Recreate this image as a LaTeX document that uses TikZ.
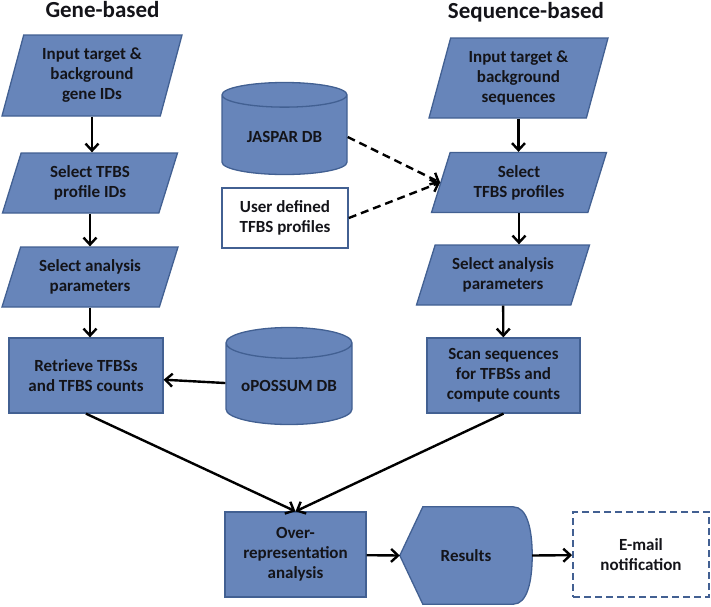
\documentclass[tikz,border=0pt]{standalone}
\usepackage{fontspec}
\setmainfont{Carlito}
\usetikzlibrary{shapes.geometric,arrows.meta,backgrounds}
\definecolor{boxfill}{RGB}{103,133,186}
\definecolor{boxline}{RGB}{66,96,146}
\definecolor{inktext}{RGB}{20,20,25}

\begin{document}
\begin{tikzpicture}[x=1pt, y=-1pt,
		every node/.style={font=\bfseries\fontsize{17}{20}\selectfont, text=inktext, align=center},
		iobox/.style={trapezium, trapezium left angle=63, trapezium right angle=117, trapezium stretches body, draw=boxline, fill=boxfill, line width=1.3pt, minimum width=175pt, minimum height=60pt, inner sep=1pt},
		procbox/.style={rectangle, draw=boxline, fill=boxfill, line width=1.3pt, inner sep=2pt},
		dbcyl/.style={cylinder, shape border rotate=90, aspect=0.3, draw=boxline, fill=boxfill, line width=1.3pt, anchor=shape center},
		userbox/.style={rectangle, draw=boxline, fill=white, line width=1.6pt},
		mailbox/.style={rectangle, draw=boxline, fill=white, line width=1.8pt, dash pattern=on 7pt off 4pt},
		flow/.style={line width=2.4pt, -{Straight Barb[length=7pt, width=13pt]}},
		dashflow/.style={flow, dash pattern=on 8pt off 5pt},
		heading/.style={font=\bfseries\fontsize{23}{26}\selectfont, anchor=base}]
		%%%%% START %%%%%
		
		\useasboundingbox (0,0) rectangle (711,606);
		
		\node[heading] (geneT) at (102.5,17.5) {Gene-based};
		\node[heading] (seqT) at (526,18.5) {Sequence-based};
		
		% gene-based column
		\node[iobox, trapezium left angle=69, trapezium right angle=111, minimum width=180pt, minimum height=81pt] (geneIn) at (92,75.5) {Input target \&\\background\\gene IDs};
		\node[iobox] (geneProf) at (90,183) {Select TFBS\\profile IDs};
		\node[iobox, minimum width=176pt] (genePar) at (90,277) {Select analysis\\parameters};
		\node[procbox, minimum width=154pt, minimum height=75pt] (retrieve) at (86,375.5) {Retrieve TFBSs\\and TFBS counts};
		\node[dbcyl, minimum width=126pt, minimum height=97pt] (opossum) at (289,376) {oPOSSUM DB};
		
		% sequence-based column
		\node[dbcyl, minimum width=125pt, minimum height=92pt] (jaspar) at (284.5,128.5) {JASPAR DB};
		\node[userbox, minimum width=126pt, minimum height=60pt] (user) at (285,218) {User defined\\TFBS profiles};
		\node[iobox, trapezium left angle=69, trapezium right angle=111, minimum width=179pt, minimum height=80pt] (seqIn) at (518.5,78) {Input target \&\\background\\sequences};
		\node[iobox] (seqProf) at (519,182.5) {Select\\TFBS profiles};
		\node[iobox, minimum width=173pt] (seqPar) at (503,275) {Select analysis\\parameters};
		\node[procbox, minimum width=153pt, minimum height=75pt] (scan) at (503.5,375.5) {Scan sequences\\for TFBSs and\\compute counts};
		
		% bottom row
		\node[procbox, minimum width=141pt, minimum height=85pt] (over) at (295.5,554.5) {Over-\\representation\\analysis};
		\node[minimum width=132pt, minimum height=97pt, inner sep=0pt] (results) at (466,555.5) {Results};
		\node[mailbox, minimum width=136pt, minimum height=85pt] (mail) at (641,554.5) {E-mail\\notification};
		
		\begin{scope}[on background layer]
			\filldraw[draw=boxline, fill=boxfill, line width=1.3pt] (results.west) -- ([xshift=23pt]results.north west) -- ([xshift=-19pt]results.north east) .. controls ([xshift=-5pt]results.north east) and ([yshift=26pt]results.east) .. (results.east) .. controls ([yshift=-26pt]results.east) and ([xshift=-5pt]results.south east) .. ([xshift=-19pt]results.south east) -- ([xshift=23pt]results.south west) -- cycle;
		\end{scope}
		
		\draw[flow] (geneIn.center |- geneIn.south) -- (geneIn.center |- geneProf.north);
		\draw[flow] (geneProf.center |- geneProf.south) -- (geneProf.center |- genePar.north);
		\draw[flow] (genePar.center |- genePar.south) -- (genePar.center |- retrieve.north);
		\draw[flow] (opossum) -- (retrieve);
		
		\draw[flow] (seqIn.center |- seqIn.south) -- (seqIn.center |- seqProf.north);
		\draw[flow] (seqProf.center |- seqProf.south) -- (seqProf.center |- seqPar.north);
		\draw[flow] (seqPar) -- (scan);
		\draw[dashflow] (jaspar.east) -- (seqProf.west);
		\draw[dashflow] (user.east) -- (seqProf.west);
		
		\draw[flow] (retrieve.south) -- (over.north);
		\draw[flow] (scan.south) -- (over.north);
		\draw[flow] (over) -- (results.west);
		\draw[flow] (results.east) -- (mail);
		
		%%%%% END %%%%%
	\end{tikzpicture}
\end{document}
